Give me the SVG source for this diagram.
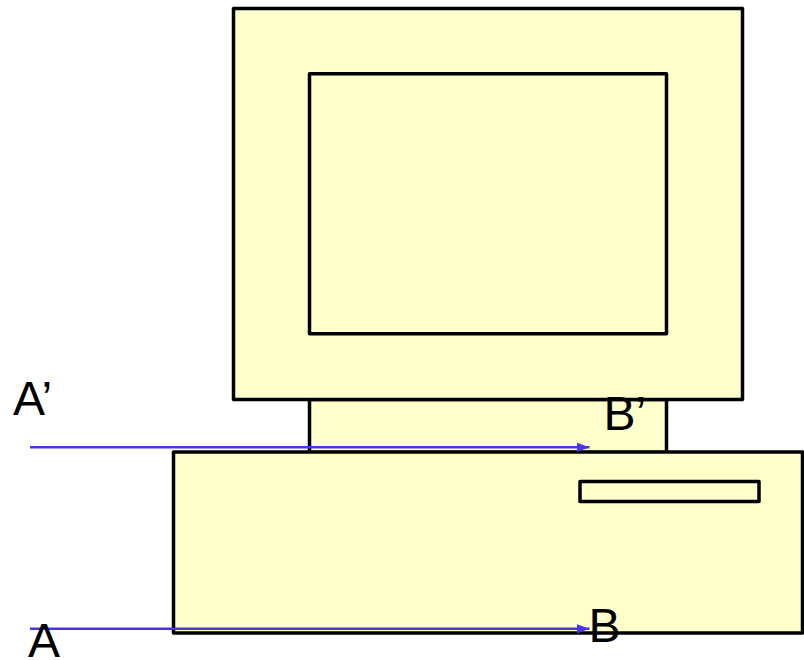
<svg xmlns="http://www.w3.org/2000/svg" width="804" height="660" viewBox="0 0 804 660">
<style>
.b{fill:#ffffcc;stroke:#000;stroke-width:3.5;stroke-linejoin:round}
.l{font-family:"Liberation Sans",Arial,sans-serif;font-size:48px;fill:#000}
.c{stroke:#4a35d8;stroke-width:2.4;fill:none;marker-end:url(#a)}
</style>
<defs><marker id="a" markerUnits="userSpaceOnUse" markerWidth="14" markerHeight="10" refX="13" refY="5" orient="auto"><path d="M0 0.2L13 5L0 9.8Z" fill="#4a35e8"/></marker></defs>
<rect width="804" height="660" fill="#fff"/>
<g id="neck"><rect class="b" x="309.5" y="399.5" width="357" height="53"/></g>
<g id="monitor"><rect class="b" x="233.5" y="8.5" width="509" height="391"/></g>
<g id="screen"><rect class="b" x="309.5" y="73.7" width="357" height="260"/></g>
<g id="base"><rect class="b" x="173.5" y="452" width="629" height="181"/></g>
<g id="slot"><rect class="b" x="580" y="481.5" width="179" height="20"/></g>
<g id="connectors">
<path class="c" d="M30 447.3H589.5"/>
<path class="c" d="M30 628.8H589.5"/>
</g>
<g id="label-a-prime"><text class="l" x="13" y="414.5">A’</text></g>
<g id="label-b-prime"><text class="l" x="603.5" y="430">B’</text></g>
<g id="label-a"><text class="l" x="28" y="657">A</text></g>
<g id="label-b"><text class="l" x="588.5" y="642">B</text></g>
</svg>
